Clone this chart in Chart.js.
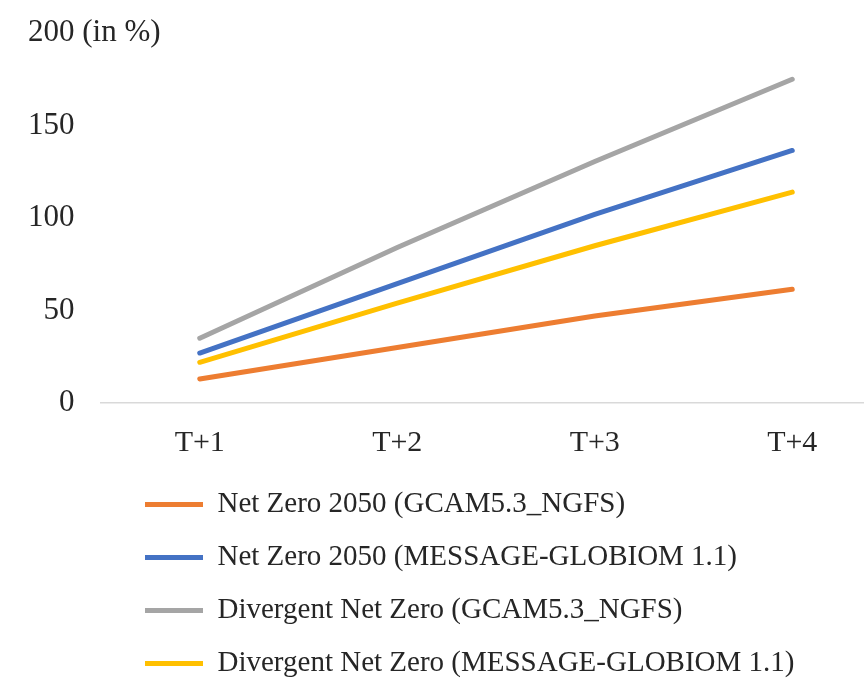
<!DOCTYPE html>
<html>
<head>
<meta charset="utf-8">
<script src="https://cdn.jsdelivr.net/npm/chart.js@4/dist/chart.umd.min.js"></script>
<style>
  html, body { margin: 0; padding: 0; background: #fff; overflow: hidden; }
  #frame { width: 864px; height: 680px; overflow: hidden; position: relative; }
  canvas { display: block; }
</style>
</head>
<body>
<div id="frame"><canvas id="c" width="900" height="688"></canvas></div>
<script>
// Horizon labels
const categories = ['T+1', 'T+2', 'T+3', 'T+4'];

// Scenario series (in %)
const netZeroGcam      = [13, 30, 47, 61.5];
const netZeroMessage   = [27, 64.5, 102, 136.5];
const divergentGcam    = [35, 84, 130.5, 175];
const divergentMessage = [22, 54, 85, 114];

const seriesNames = [
  'Net Zero 2050 (GCAM5.3_NGFS)',
  'Net Zero 2050 (MESSAGE-GLOBIOM 1.1)',
  'Divergent Net Zero (GCAM5.3_NGFS)',
  'Divergent Net Zero (MESSAGE-GLOBIOM 1.1)'
];

// Y tick labels; figure spaces keep the digits right-aligned while the top label runs on
const yTickLabels = {
  0: '\u2007\u20070',
  50: '\u200750',
  100: '100',
  150: '150',
  200: '200 (in %)'
};

const SERIF = "'Liberation Serif', 'Times New Roman', serif";
const TEXT = '#262626';

const colors = ['#ED7D31', '#4472C4', '#A5A5A5', '#FFC000'];
const values = [netZeroGcam, netZeroMessage, divergentGcam, divergentMessage];

const datasets = values.map((v, i) => ({
  label: seriesNames[i],
  data: v,
  borderColor: colors[i],
  backgroundColor: colors[i],
  borderWidth: 5,
  borderCapStyle: 'round',
  borderJoinStyle: 'round',
  pointRadius: 0,
  pointHoverRadius: 0,
  tension: 0,
  fill: false
}));

// Indents the stacked legend rows under the plot
const legendIndent = {
  id: 'legendIndent',
  afterLayout(chart) {
    const lg = chart.legend;
    if (lg) { lg.left += 20; lg.right += 20; }
  }
};

new Chart(document.getElementById('c'), {
  type: 'line',
  data: { labels: categories, datasets },
  plugins: [legendIndent],
  options: {
    responsive: false,
    animation: false,
    devicePixelRatio: 1,
    layout: { padding: { left: 101, right: 9, top: 33, bottom: 0 } },
    plugins: {
      tooltip: { enabled: false },
      legend: {
        position: 'bottom',
        align: 'start',
        labels: {
          font: { family: SERIF, size: 29 },
          color: TEXT,
          usePointStyle: true,
          pointStyle: 'line',
          pointStyleWidth: 58,
          padding: 24
        }
      }
    },
    scales: {
      x: {
        offset: true,
        grid: { display: false, drawTicks: false },
        border: { display: true, color: '#D9D9D9', width: 1.5 },
        ticks: { font: { family: SERIF, size: 30 }, color: TEXT, padding: 22, maxRotation: 0 },
        afterFit(axis) { axis.height = 63; }
      },
      y: {
        min: 0,
        max: 200,
        grid: { display: false, drawTicks: false },
        border: { display: false },
        ticks: {
          stepSize: 50,
          font: { family: SERIF, size: 31 },
          color: TEXT,
          mirror: true,
          padding: -73,
          callback: (v) => yTickLabels[v] ?? String(v)
        },
        afterFit(axis) { axis.width = 0; }
      }
    }
  }
});
</script>
</body>
</html>
